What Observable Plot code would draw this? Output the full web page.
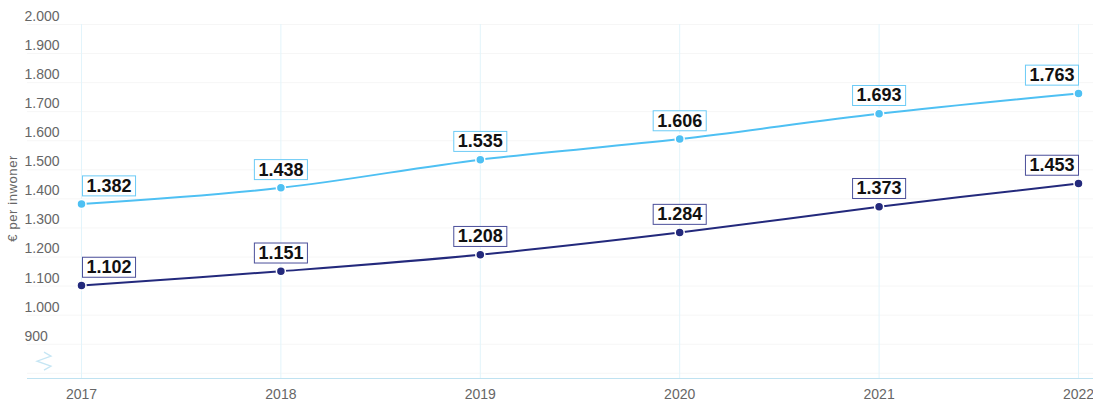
<!DOCTYPE html>
<html>
<head>
<meta charset="utf-8">
<script src="https://cdn.jsdelivr.net/npm/d3@7"></script>
<script src="https://cdn.jsdelivr.net/npm/@observablehq/plot@0.6"></script>
<style>
  html, body { margin: 0; padding: 0; background: #fff; }
  body { width: 1093px; height: 405px; overflow: hidden; font-family: "Liberation Sans", Arial, sans-serif; }
</style>
</head>
<body>
<div id="chart"></div>
<script>
const years = [2017, 2018, 2019, 2020, 2021, 2022];
const lightValues = [1382, 1438, 1535, 1606, 1693, 1763];
const darkValues = [1102, 1151, 1208, 1284, 1373, 1453];
const yTicks = [900, 1000, 1100, 1200, 1300, 1400, 1500, 1600, 1700, 1800, 1900, 2000];
const yTitle = "€ per inwoner";

const lightColor = "#4ec0f3";
const lightBorder = "#6ccbf6";
const darkColor = "#23297c";
const darkBorder = "#4b4f9a";

const nl = d3.formatLocale({decimal: ",", thousands: ".", grouping: [3], currency: ["€", ""]});
const fmt = nl.format(",d");

const light = years.map((year, i) => ({year, value: lightValues[i], i}));
const dark = years.map((year, i) => ({year, value: darkValues[i], i}));

const pxPerYear = (1078 - 81) / 5;
const xDomain = [2017 - 54 / pxPerYear, 2022 + 15 / pxPerYear];

const anchorFor = d => d.i === 0 ? "start" : d.i === years.length - 1 ? "end" : "middle";

function labelMarks(data) {
  return ["start", "middle", "end"].map(anchor => {
    const sub = data.filter(d => anchorFor(d) === anchor);
    return Plot.text(sub, {
      x: "year", y: "value", text: d => fmt(d.value),
      textAnchor: anchor, lineAnchor: "middle",
      dx: anchor === "start" ? 5 : anchor === "end" ? -4 : 0, dy: -18,
      fontSize: 18, fontWeight: "bold", fill: "#111",
      fontFamily: "Liberation Sans, Arial, sans-serif"
    });
  });
}

const chart = Plot.plot({
  width: 1093,
  height: 405,
  marginTop: 24,
  marginBottom: 27,
  marginLeft: 27,
  marginRight: 0,
  style: {fontFamily: "Liberation Sans, Arial, sans-serif", background: "#fff"},
  x: {type: "linear", domain: xDomain},
  y: {domain: [782, 2000]},
  marks: [
    Plot.ruleY(yTicks.concat([800]), {stroke: "#f6f6f6", strokeWidth: 1}),
    Plot.ruleX(years, {stroke: "#e2f4fb", strokeWidth: 1}),
    Plot.ruleY([782], {stroke: "#bfe2f1", strokeWidth: 1.2}),
    Plot.axisY({ticks: yTicks, anchor: "left", tickSize: 0, textAnchor: "start", dx: 6, dy: -8,
      tickFormat: fmt, fontSize: 14, fill: "#666", label: null}),
    Plot.axisX({ticks: years, tickSize: 0, tickFormat: d => String(d), fontSize: 14, fill: "#666", dy: 2, label: null}),
    Plot.line(light, {x: "year", y: "value", stroke: lightColor, strokeWidth: 2, curve: "catmull-rom"}),
    Plot.line(dark, {x: "year", y: "value", stroke: darkColor, strokeWidth: 2, curve: "catmull-rom"}),
    Plot.dot(light, {x: "year", y: "value", r: 4.5, fill: lightColor, stroke: "#fff", strokeWidth: 1.5}),
    Plot.dot(dark, {x: "year", y: "value", r: 4.5, fill: darkColor, stroke: "#fff", strokeWidth: 1.5}),
    ...labelMarks(light),
    ...labelMarks(dark)
  ]
});

document.getElementById("chart").appendChild(chart);

const svg = d3.select(chart);
// label boxes
const borderByLabel = new Map();
lightValues.forEach(v => borderByLabel.set(fmt(v), lightBorder));
darkValues.forEach(v => borderByLabel.set(fmt(v), darkBorder));
const labelTexts = Array.from(chart.querySelectorAll("text")).filter(t =>
  borderByLabel.has(t.textContent.trim()) && t.closest("[font-weight]"));
labelTexts.forEach(t => {
  const b = t.getBBox();
  const cy = b.y + b.height / 2;
  const rect = document.createElementNS("http://www.w3.org/2000/svg", "rect");
  rect.setAttribute("x", b.x - 4);
  rect.setAttribute("y", cy - 10);
  rect.setAttribute("width", b.width + 8);
  rect.setAttribute("height", 20);
  rect.setAttribute("fill", "#fff");
  rect.setAttribute("stroke", borderByLabel.get(t.textContent.trim()));
  rect.setAttribute("stroke-width", 1);
  const tr = t.getAttribute("transform");
  if (tr) rect.setAttribute("transform", tr);
  t.parentNode.insertBefore(rect, t);
});

// y axis title
const yScale = chart.scale("y");
svg.append("text")
  .attr("transform", `translate(17,${yScale.apply(1400)}) rotate(-90)`)
  .attr("text-anchor", "middle")
  .attr("font-size", 13)
  .attr("letter-spacing", 0.6)
  .attr("font-family", "Liberation Sans, Arial, sans-serif")
  .attr("fill", "#666")
  .text(yTitle);

// axis break symbol
const by = yScale.apply(840);
const bx = 44;
svg.append("path")
  .attr("d", `M${bx},${by - 9} L${bx + 7},${by - 5} L${bx - 7},${by} L${bx + 7},${by + 5} L${bx},${by + 9}`)
  .attr("fill", "none").attr("stroke", "#c6e6f4").attr("stroke-width", 1.3);
</script>
</body>
</html>
